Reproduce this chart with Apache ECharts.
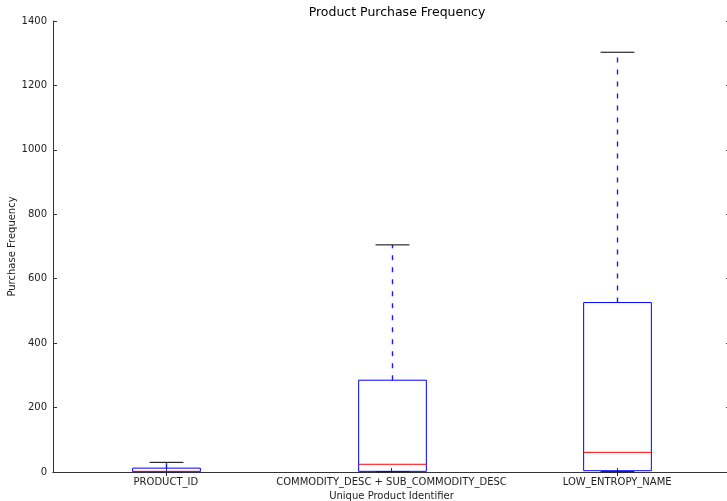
<!DOCTYPE html>
<html>
<head>
<meta charset="utf-8">
<title>Product Purchase Frequency</title>
<script src="https://cdn.jsdelivr.net/npm/echarts@6/dist/echarts.min.js"></script>
<style>
  html, body { margin: 0; padding: 0; background: #fff; }
  #chart { width: 727px; height: 501px; }
</style>
</head>
<body>
<div id="chart"></div>
<script>
// Purchase-frequency distribution per product identifier scheme
const categories = ['PRODUCT_ID', 'COMMODITY_DESC + SUB_COMMODITY_DESC', 'LOW_ENTROPY_NAME'];
const whiskerLow = [1, 1, 1];
const quartile1 = [1, 2, 4];
const medians = [2, 24, 61];
const quartile3 = [12, 285, 526];
const whiskerHigh = [30, 705, 1303];
const yTicks = { min: 0, max: 1400, interval: 200 };

const boxData = categories.map((c, i) => [i, whiskerLow[i], quartile1[i], medians[i], quartile3[i], whiskerHigh[i]]);

const FONT = 'DejaVu Sans';
const SPINE = '#333';

function renderBox(params, api) {
  const i = api.value(0);
  const bandW = api.size([1, 0])[0];
  const boxW = bandW * 0.3;
  const capW = bandW * 0.15;
  const pLow = api.coord([i, api.value(1)]);
  const pQ1 = api.coord([i, api.value(2)]);
  const pMed = api.coord([i, api.value(3)]);
  const pQ3 = api.coord([i, api.value(4)]);
  const pHigh = api.coord([i, api.value(5)]);
  const cx = Math.round(pQ1[0]) + 0.5;
  const blue = { stroke: '#0000ff', lineWidth: 1, fill: null };
  const dashed = { stroke: '#1a1aff', lineWidth: 1.4, lineDash: [5, 7] };
  const cap = { stroke: '#000000', lineWidth: 1 };
  return {
    type: 'group',
    children: [
      { type: 'line', shape: { x1: cx, y1: pQ3[1], x2: cx, y2: pHigh[1] }, style: dashed },
      { type: 'line', shape: { x1: cx, y1: pQ1[1], x2: cx, y2: pLow[1] }, style: dashed },
      { type: 'line', shape: { x1: cx - capW / 2, y1: pHigh[1], x2: cx + capW / 2, y2: pHigh[1] }, style: cap },
      { type: 'line', shape: { x1: cx - capW / 2, y1: pLow[1], x2: cx + capW / 2, y2: pLow[1] }, style: cap },
      { type: 'rect', shape: { x: cx - boxW / 2, y: pQ3[1], width: boxW, height: pQ1[1] - pQ3[1] }, style: blue },
      { type: 'line', shape: { x1: cx - boxW / 2, y1: pMed[1], x2: cx + boxW / 2, y2: pMed[1] }, style: { stroke: '#ff0000', lineWidth: 1 } }
    ]
  };
}

const chart = echarts.init(document.getElementById('chart'), null, { renderer: 'canvas' });
chart.setOption({
  animation: false,
  backgroundColor: '#fff',
  title: {
    text: 'Product Purchase Frequency',
    left: 392, top: 1, textAlign: 'center',
    textStyle: { fontFamily: FONT, fontSize: 12.5, fontWeight: 'normal', color: '#000' }
  },
  grid: { left: 53, right: -3, top: 21, bottom: 29, containLabel: false, outerBoundsMode: 'none' },
  xAxis: [
    {
      type: 'category', data: categories, position: 'bottom',
      name: 'Unique Product Identifier', nameLocation: 'middle', nameGap: 18,
      nameTextStyle: { fontFamily: FONT, fontSize: 10, color: '#222' },
      axisLine: { show: true, lineStyle: { color: SPINE, width: 1 } },
      axisTick: { show: true, inside: true, alignWithLabel: true, length: 4, lineStyle: { color: SPINE } },
      axisLabel: { fontFamily: FONT, fontSize: 10, color: '#222', margin: 5, interval: 0 },
      splitLine: { show: false }
    },
    {
      type: 'category', data: categories, position: 'top',
      axisLine: { show: true, lineStyle: { color: SPINE, width: 1 } },
      axisTick: { show: true, inside: true, alignWithLabel: true, length: 4, lineStyle: { color: SPINE } },
      axisLabel: { show: false },
      splitLine: { show: false }
    }
  ],
  yAxis: [
    {
      type: 'value', position: 'left', min: yTicks.min, max: yTicks.max, interval: yTicks.interval,
      name: 'Purchase Frequency', nameLocation: 'middle', nameGap: 36, nameRotate: 90,
      nameMoveOverlap: false,
      nameTextStyle: { fontFamily: FONT, fontSize: 10, color: '#222' },
      axisLine: { show: true, lineStyle: { color: SPINE, width: 1 } },
      axisTick: { show: true, inside: true, length: 4, lineStyle: { color: SPINE } },
      axisLabel: { fontFamily: FONT, fontSize: 10, color: '#222', margin: 6, formatter: v => String(v) },
      splitLine: { show: false }
    },
    {
      type: 'value', position: 'right', min: yTicks.min, max: yTicks.max, interval: yTicks.interval,
      axisLine: { show: true, lineStyle: { color: SPINE, width: 1 } },
      axisTick: { show: true, inside: true, length: 4, lineStyle: { color: SPINE } },
      axisLabel: { show: false },
      splitLine: { show: false }
    }
  ],
  series: [{
    type: 'custom',
    xAxisIndex: 0, yAxisIndex: 0,
    renderItem: renderBox,
    encode: { x: 0, y: [1, 2, 3, 4, 5] },
    data: boxData,
    clip: false
  }]
});
</script>
</body>
</html>
